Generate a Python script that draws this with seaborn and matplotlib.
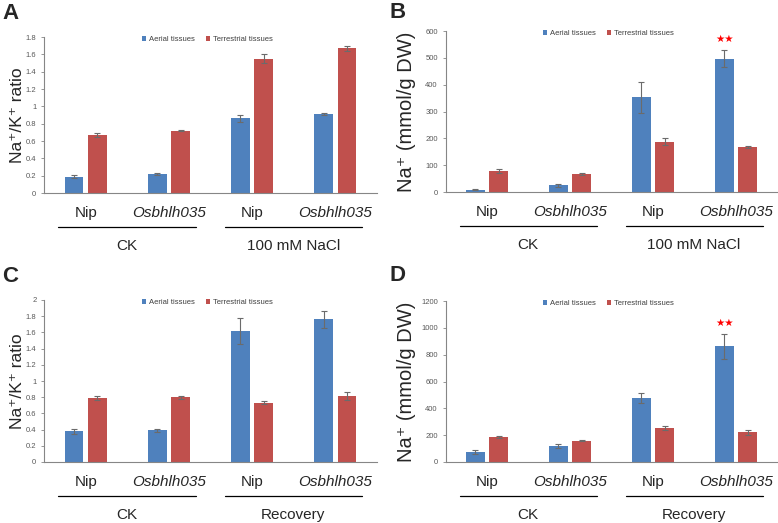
import numpy as np
import pandas as pd
import matplotlib
matplotlib.use("Agg")
import matplotlib.pyplot as plt
import matplotlib.transforms as mtransforms
import seaborn as sns

# Values (mean and error for each bar)
genotypes = ["Nip", "Osbhlh035", "Nip", "Osbhlh035"]
tissues = ["Aerial tissues", "Terrestrial tissues"]

a_aerial = [0.19, 0.22, 0.86, 0.91]
a_aerial_err = [0.015, 0.01, 0.035, 0.015]
a_terr = [0.67, 0.72, 1.55, 1.67]
a_terr_err = [0.02, 0.005, 0.05, 0.03]

b_aerial = [9, 25, 353, 496]
b_aerial_err = [2, 6, 57, 32]
b_terr = [79, 66, 187, 168]
b_terr_err = [7, 4, 13, 4]

c_aerial = [0.38, 0.39, 1.62, 1.76]
c_aerial_err = [0.03, 0.02, 0.16, 0.10]
c_terr = [0.79, 0.80, 0.73, 0.82]
c_terr_err = [0.02, 0.02, 0.02, 0.05]

d_aerial = [72, 122, 477, 862]
d_aerial_err = [15, 15, 37, 95]
d_terr = [186, 159, 256, 221]
d_terr_err = [10, 5, 15, 20]

sns.set_style("white")
plt.rcParams["font.family"] = ["Liberation Sans", "DejaVu Sans"]

BLUE = "#4F81BD"
RED = "#C0504D"
GRAY = "#868686"

fig = plt.figure(figsize=(7.78, 5.23), dpi=100)


def panel(rect, letter, letter_xy, aerial, aerial_err, terr, terr_err,
          ymax, ystep, ylabel, ylab_size, treat, ylab_x, star_y=None):
    ax = fig.add_axes(rect)
    slots = [f"{t}{i}" for i, t in enumerate(genotypes)]
    df = pd.DataFrame({
        "slot": slots * 2,
        "tissue": [tissues[0]] * 4 + [tissues[1]] * 4,
        "value": aerial + terr,
    })
    errs = [aerial_err, terr_err]
    sns.barplot(data=df, x="slot", y="value", hue="tissue", order=slots,
                hue_order=tissues, palette=[BLUE, RED], width=0.56, gap=0.2,
                errorbar=None, linewidth=0, saturation=1, ax=ax)
    for cont, err in zip(ax.containers, errs):
        xs = [p.get_x() + p.get_width() / 2 for p in cont]
        ys = [p.get_height() for p in cont]
        ax.errorbar(xs, ys, yerr=err, fmt="none", ecolor="#6b6b6b",
                    elinewidth=0.8, capsize=2, capthick=0.8)

    ax.set_xlim(-0.5, 3.5)
    ax.set_ylim(0, ymax)
    ticks = np.arange(0, ymax + ystep / 2, ystep)
    ax.set_yticks(ticks)
    ax.set_yticklabels([f"{t:g}" for t in ticks], fontsize=5.5, color="#595959")
    ax.tick_params(axis="y", length=2.5, width=0.6, color=GRAY, pad=3, left=True)
    ax.tick_params(axis="x", length=0, labelbottom=False)
    ax.set_xlabel("")
    ax.set_ylabel(ylabel, fontsize=ylab_size)
    ax.yaxis.set_label_coords(ylab_x, 0.5)
    for s in ["top", "right"]:
        ax.spines[s].set_visible(False)
    for s in ["left", "bottom"]:
        ax.spines[s].set_color(GRAY)
        ax.spines[s].set_linewidth(0.8)

    leg = ax.legend(loc="upper center", bbox_to_anchor=(0.49, 1.05), ncol=2,
                    frameon=False, fontsize=5.5, handlelength=0.6,
                    handleheight=0.6, handletextpad=0.3, columnspacing=1.5)
    for t in leg.get_texts():
        t.set_color("#404040")

    xtrans = ax.get_xaxis_transform()
    for i, g in enumerate(genotypes):
        ax.annotate(g, xy=(i, 0), xycoords=xtrans, xytext=(0, -20),
                    textcoords="offset pixels", ha="center", va="center",
                    fontsize=11, style="italic" if g != "Nip" else "normal")
    line_tr = mtransforms.offset_copy(xtrans, fig=fig, y=-34, units="dots")
    for (x0, x1), lab in zip([(-0.33, 1.32), (1.67, 3.32)], ["CK", treat]):
        ax.plot([x0, x1], [0, 0], color="black", lw=0.9, transform=line_tr,
                clip_on=False)
        ax.annotate(lab, xy=((x0 + x1) / 2, 0), xycoords=xtrans,
                    xytext=(0, -53), textcoords="offset pixels",
                    ha="center", va="center", fontsize=11)

    if star_y is not None:
        p = ax.containers[0][3]
        ax.text(p.get_x() + p.get_width() / 2, star_y, "\u2605\u2605",
                color="red", ha="center", va="center", fontsize=7.5,
                family=["DejaVu Sans"])

    fig.text(letter_xy[0], letter_xy[1], letter, fontsize=16,
             fontweight="bold", ha="left", va="top")
    return ax


panel([44 / 778, 1 - 193 / 523, 333 / 778, 156 / 523], "A", (2 / 778, 1 - 3 / 523),
      a_aerial, a_aerial_err, a_terr, a_terr_err, 1.8, 0.2,
      "Na\u207a/K\u207a ratio", 12.5, "100 mM NaCl", -0.057)
panel([445.5 / 778, 1 - 192 / 523, 332 / 778, 161 / 523], "B", (390 / 778, 1 - 2 / 523),
      b_aerial, b_aerial_err, b_terr, b_terr_err, 600, 100,
      "Na\u207a (mmol/g DW)", 14.5, "100 mM NaCl", -0.09, star_y=570)
panel([44 / 778, 1 - 462 / 523, 333 / 778, 162 / 523], "C", (2 / 778, 1 - 266 / 523),
      c_aerial, c_aerial_err, c_terr, c_terr_err, 2.0, 0.2,
      "Na\u207a/K\u207a ratio", 12.5, "Recovery", -0.057)
panel([445.5 / 778, 1 - 462 / 523, 332 / 778, 161 / 523], "D", (390 / 778, 1 - 265 / 523),
      d_aerial, d_aerial_err, d_terr, d_terr_err, 1200, 200,
      "Na\u207a (mmol/g DW)", 14.5, "Recovery", -0.09, star_y=1035)

fig.savefig("out.png", dpi=100)
